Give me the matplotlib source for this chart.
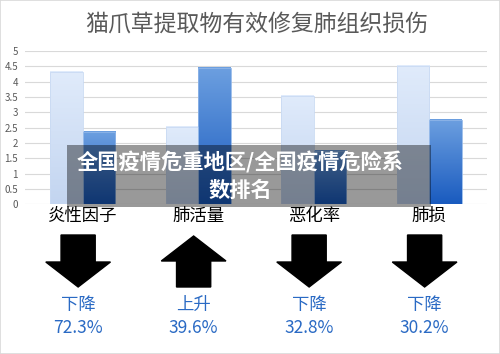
import numpy as np
import matplotlib
matplotlib.use('Agg')
import matplotlib.pyplot as plt
from matplotlib.patches import Polygon, Rectangle

plt.rcParams['font.family'] = ['Noto Sans CJK SC', 'DejaVu Sans']

# 数据
categories = ['炎性因子', '肺活量', '恶化率', '肺损']
series_before = [4.31, 2.52, 3.54, 4.52]
series_after = [2.37, 4.44, 1.75, 2.75]
change_words = ['下降', '上升', '下降', '下降']
change_pcts = ['72.3%', '39.6%', '32.8%', '30.2%']
yticks = [0, 0.5, 1, 1.5, 2, 2.5, 3, 3.5, 4, 4.5, 5]

title = '猫爪草提取物有效修复肺组织损伤'
overlay_text = '全国疫情危重地区/全国疫情危险系\n数排名'

W, H = 500, 354
fig = plt.figure(figsize=(W / 100, H / 100), dpi=100)
fig.patch.set_facecolor('white')
fig.patches.append(Rectangle((0, 0), 1, 1, transform=fig.transFigure,
                             fill=False, edgecolor='#d9d9d9', lw=1.2))


def px(x0, y0, x1, y1):
    # 像素坐标 -> figure 坐标 [left, bottom, width, height]
    return [x0 / W, 1 - y1 / H, (x1 - x0) / W, (y1 - y0) / H]


ax = fig.add_axes(px(25, 51, 487, 204.3))
x = np.arange(len(categories))
bw = 0.28

# 渐变色柱
def grad_bar(xpos, vals, top_c, bot_c, edge):
    bars = ax.bar(xpos, vals, bw, color='none', edgecolor=edge, lw=0.6, zorder=3)
    cmap = matplotlib.colors.LinearSegmentedColormap.from_list('g', [bot_c, top_c])
    grad = np.linspace(0, 1, 100).reshape(-1, 1)
    for b in bars:
        ax.imshow(grad, cmap=cmap, origin='lower', aspect='auto', zorder=2,
                  extent=(b.get_x(), b.get_x() + b.get_width(), 0, b.get_height()))
    return bars

grad_bar(x - bw / 2, series_before, '#e0ebfb', '#c3d5f0', '#c9daf3')
grad_bar(x + bw / 2, series_after, '#6c9fe0', '#1a5bbf', '#8fb5e8')

ax.set_xlim(-0.5, 3.5)
ax.set_ylim(0, 5)
ax.set_yticks(yticks)
ax.set_yticklabels([f'{v:g}' for v in yticks], fontsize=7, color='#595959')
ax.set_xticks(x)
ax.set_xticklabels(categories, fontsize=12.5, color='black')
ax.tick_params(length=0, axis='y', pad=5)
ax.tick_params(length=0, axis='x', pad=2)
ax.grid(axis='y', color='#d9d9d9', lw=0.8, zorder=0)
ax.set_axisbelow(True)
for s in ax.spines.values():
    s.set_visible(False)

fig.text(0.514, 1 - 25 / H, title, ha='center', va='center', fontsize=16.5, color='#595959')

# 半透明遮罩与文字
fig.patches.append(Rectangle((67 / W, 1 - 207 / H), (431 - 67) / W, (207 - 145) / H,
                             transform=fig.transFigure, facecolor='black', alpha=0.4,
                             edgecolor='none', zorder=5))
fig.text(240 / W, 1 - 176 / H, overlay_text, ha='center', va='center', fontsize=15.3,
         fontweight='heavy', color='white', linespacing=1.4, zorder=6)

# 底部箭头
bx = fig.add_axes(px(25, 225, 487, 350))
bx.set_xlim(-0.5, 3.5)
bx.set_ylim(350, 225)
bx.axis('off')
sw, hw = 0.148, 0.28
for i, (w, p) in enumerate(zip(change_words, change_pcts)):
    cx = i - 0.04
    if w == '上升':
        pts = [(cx, 236), (cx + hw, 261), (cx + sw, 261), (cx + sw, 287),
               (cx - sw, 287), (cx - sw, 261), (cx - hw, 261)]
    else:
        pts = [(cx - sw, 235), (cx + sw, 235), (cx + sw, 262), (cx + hw, 262),
               (cx, 287), (cx - hw, 262), (cx - sw, 262)]
    bx.add_patch(Polygon(pts, closed=True, facecolor='black', edgecolor='black'))
    bx.text(cx, 305, w, ha='center', va='center', fontsize=12.5, color='#2a6ac4')
    bx.text(cx, 328, p, ha='center', va='center', fontsize=12.5, color='#2a6ac4')

fig.savefig('out.png', dpi=100)
